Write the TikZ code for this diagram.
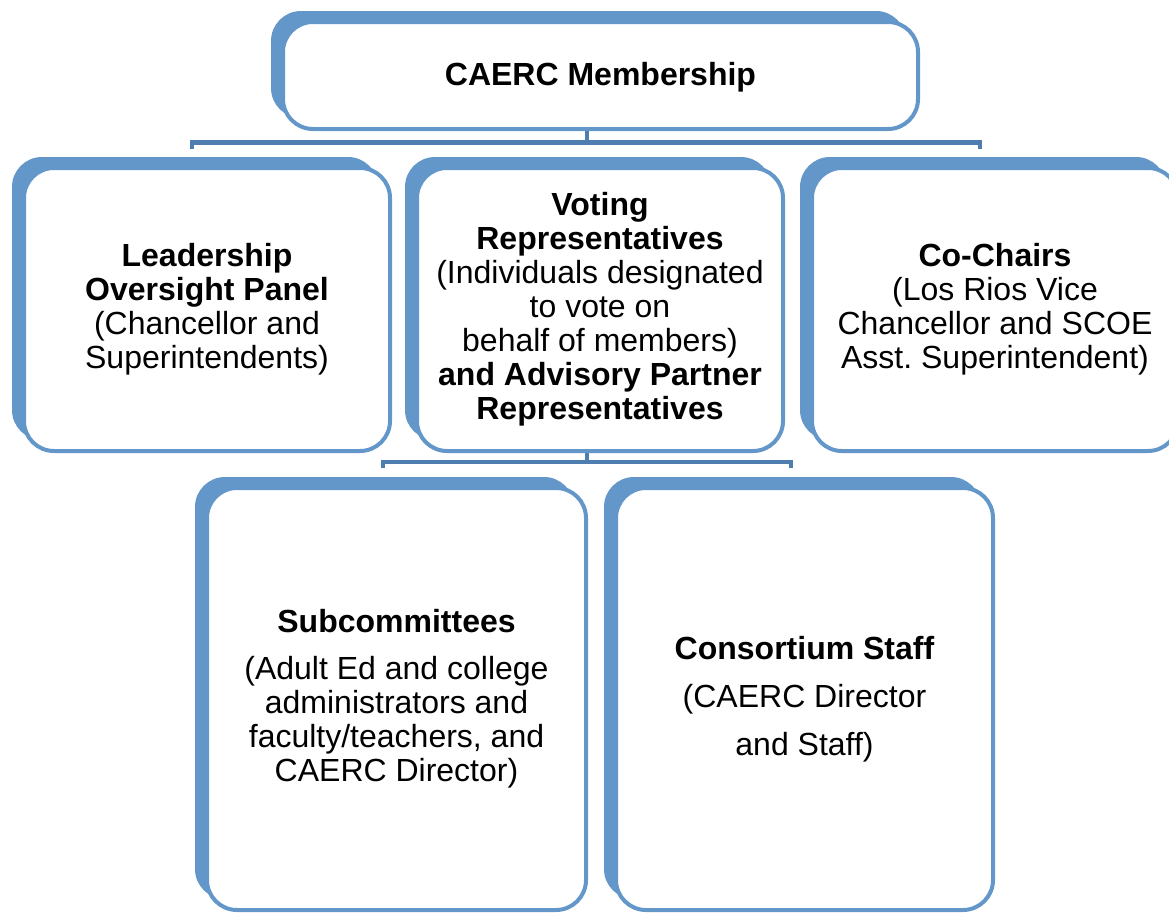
\documentclass[tikz,border=0pt]{standalone}
\usepackage{fontspec}
\setmainfont{Liberation Sans}
\usetikzlibrary{shadows}

\definecolor{boxblue}{RGB}{100,151,201}
\definecolor{linkblue}{RGB}{78,126,175}

\tikzset{
  orgbox/.style={draw=boxblue, line width=4pt, fill=white,
    rounded corners=30pt, align=center, inner sep=0pt,
    font=\fontsize{32}{34}\selectfont,
    drop shadow={shadow xshift=-12pt, shadow yshift=11pt,
      fill=boxblue, opacity=1}},
  link/.style={draw=linkblue, line width=4.5pt}
}

\begin{document}
\begin{tikzpicture}[x=1pt, y=-1pt]
\useasboundingbox (0,0) rectangle (1169,913);

% Top box
\node[orgbox, minimum width=635pt, minimum height=107pt, text depth=3pt] (member) at (600.5,75.5)
  {\textbf{CAERC Membership}};

% Second row
\node[orgbox, minimum width=366pt, minimum height=283pt] (panel) at (207,309.5)
  {\textbf{Leadership}\\ \textbf{Oversight Panel}\\ (Chancellor and\\ Superintendents)};
\node[orgbox, minimum width=366pt, minimum height=283pt] (vote) at (600,309.5)
  {\textbf{Voting}\\ \textbf{Representatives}\\ (Individuals designated\\ to vote on\\
   behalf of members)\\ \textbf{and Advisory Partner}\\ \textbf{Representatives}};
\node[orgbox, minimum width=366pt, minimum height=283pt] (chairs) at (995,309.5)
  {\textbf{Co-Chairs}\\ (Los Rios Vice\\ Chancellor and SCOE\\ Asst.\ Superintendent)};

% Third row
\node[orgbox, minimum width=379pt, minimum height=422pt] (subcom) at (396.5,699)
  {\textbf{Subcommittees}\\[13pt] (Adult Ed and college\\ administrators and\\
   faculty/teachers, and\\ CAERC Director)};
\node[orgbox, minimum width=377pt, minimum height=422pt] (staff) at (804.5,699)
  {\textbf{Consortium Staff}\\[14pt] (CAERC Director\\[14pt] and Staff)};

% Bus lines
\coordinate (bus1) at (587,142.5);
\coordinate (tick1l) at (192,149);
\coordinate (tick1r) at (980,149);
\draw[link] (member.south -| bus1) -- (bus1);
\draw[link] (tick1l) |- (bus1) -| (tick1r);

\coordinate (bus2) at (587,462);
\coordinate (tick2l) at (383,468);
\coordinate (tick2r) at (791,468);
\draw[link] (vote.south -| bus2) -- (bus2);
\draw[link] (tick2l) |- (bus2) -| (tick2r);
\end{tikzpicture}
\end{document}
